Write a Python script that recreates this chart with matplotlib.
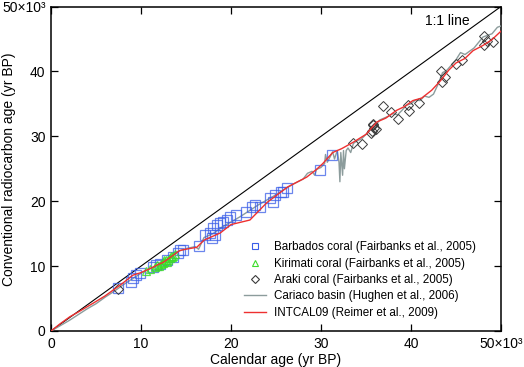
import matplotlib
matplotlib.use("Agg")
import matplotlib.pyplot as plt
from matplotlib.lines import Line2D

plt.rcParams['font.family'] = ['Liberation Sans', 'DejaVu Sans']

# ---------- data (thousands of years) ----------
intcal_cal = [0, 1, 2.1, 3, 4.7, 6, 6.9, 8, 9.1, 10, 11.3, 12, 12.5, 13, 13.6, 14.3, 15, 16.2, 17, 18.8,
              20, 22.1, 24, 26.3, 28.4, 29.5, 30.2, 31.3, 32.3, 33.6, 35, 36.2, 37.2, 38.4, 39.3, 40.2,
              41.2, 42.3, 43.3, 44.2, 45.0, 46.0, 46.9, 48.0, 49.0, 50.0]
intcal_c14 = [0, 1.1, 2.2, 2.9, 4.3, 5.4, 6.3, 7.4, 8.6, 9.0, 9.8, 10.3, 10.6, 11.1, 11.7, 12.4, 12.6, 12.9, 14.0, 15.1,
              16.4, 17.1, 19.8, 22.2, 23.7, 24.9, 25.8, 27.5, 28.1, 29.1, 30.3, 32.2, 32.8, 34.0, 34.6, 35.5,
              35.9, 37.1, 38.6, 40.2, 41.3, 42.0, 43.2, 44.0, 44.9, 46.2]

cariaco_cal = [0, 1, 2, 3, 4, 5, 6, 7, 8, 9, 10, 11, 12, 13, 14, 15, 16, 16.4, 17, 18, 19, 20, 21, 22, 23, 24,
               25, 26, 27, 28, 28.5, 29, 29.3, 29.5, 30.0, 30.4, 30.5, 30.7, 31.0, 31.3, 31.5, 31.8, 32.0,
               32.1, 32.2, 32.4, 32.5, 32.6, 32.8, 33.0, 33.3, 33.6, 34, 34.5, 35, 35.5, 36, 36.5, 37, 37.5, 38,
               38.5, 39, 39.5, 40, 40.5, 41, 41.5, 42, 42.5, 43, 43.5, 44, 44.5, 45, 45.5, 46, 47, 48,
               49, 49.6, 50]
cariaco_c14 = [0, 0.8, 1.6, 2.5, 3.4, 4.2, 5.2, 6.1, 7.1, 8.0, 8.9, 9.6, 10.3, 11.1, 12.2, 12.7, 13.0, 12.6,
               14.4, 15.0, 16.0, 16.8, 17.6, 18.5, 19.4, 20.2, 21.0, 21.9, 22.7, 23.4, 24.3, 24.6, 24.0,
               24.9, 25.2, 25.8, 27.2, 26.0, 26.8, 27.6, 26.5, 27.8, 26.0, 23.0, 27.5, 24.0, 27.8, 25.0,
               27.8, 28.2, 27.5, 28.9, 29.3, 29.6, 30.3, 31.0, 31.5, 32.5, 32.8, 33.1, 33.5, 33.3, 34.0,
               34.8, 35.0, 35.6, 35.5, 36.2, 36.0, 36.5, 38.0, 39.8, 40.2, 41.0, 41.8, 42.9, 42.6, 43.6,
               45.3, 45.8, 46.8, 47.0]

barbados_cal = [7.4, 8.9, 9.1, 9.4, 9.9, 11.3, 11.7, 12.1, 12.9, 13.6, 14.1, 14.3, 14.7, 16.4,
                17.1, 17.7, 18.0, 18.4, 18.8, 19.1, 19.5, 19.9, 18.2, 17.9, 20.6, 21.7, 22.3, 22.7, 23.2,
                24.3, 24.9, 25.6, 26.2, 24.7, 25.8, 29.9, 31.2]
barbados_c14 = [6.6, 7.6, 8.1, 8.6, 8.9, 9.9, 10.2, 10.4, 10.9, 11.4, 12.0, 12.5, 12.5, 13.1,
                14.8, 15.1, 15.8, 16.3, 16.6, 16.8, 17.1, 17.5, 14.8, 14.3, 17.8, 18.3, 19.1, 19.4, 19.1,
                20.5, 20.9, 21.4, 22.0, 19.8, 21.4, 24.8, 27.1]

kirimati_cal = [10.5, 11.0, 11.5, 11.8, 12.0, 12.2, 12.4, 12.6, 12.8, 13.0, 13.2, 13.4, 13.6, 13.8, 12.5, 12.9, 13.3]
kirimati_c14 = [9.3, 9.6, 9.9, 10.1, 10.0, 10.3, 10.5, 10.6, 10.9, 11.0, 11.2, 11.4, 11.5, 11.8, 10.9, 10.6, 11.6]

araki_cal = [7.4, 33.6, 34.6, 36.9, 37.8, 38.5, 35.8, 35.9, 35.7, 35.5, 36.1, 35.8, 39.7, 39.8, 40.9,
             43.3, 43.8, 43.4, 45.0, 45.7, 48.1, 48.1, 49.1, 48.4]
araki_c14 = [6.5, 29.0, 28.8, 34.7, 33.7, 32.6, 31.7, 31.3, 30.8, 30.5, 31.2, 31.9, 34.8, 33.9, 35.1,
             40.0, 39.1, 38.4, 41.2, 41.7, 45.5, 44.0, 44.6, 44.7]

x_ticks = [0, 10, 20, 30, 40, 50]
x_ticklabels = ['0', '10', '20', '30', '40', '50×10³']
y_ticks = [0, 10, 20, 30, 40, 50]
y_ticklabels = ['0', '10', '20', '30', '40', '50×10³']

# ---------- figure ----------
fig = plt.figure(figsize=(5.24, 3.67), dpi=100)
ax = fig.add_axes([51/524, 1-331/367, 450/524, 324.5/367])

ax.plot([0, 50], [0, 50], color='black', lw=0.8, zorder=2)
ax.plot(cariaco_cal, cariaco_c14, color='#8c9c9c', lw=1.0, zorder=3)
ax.plot(barbados_cal, barbados_c14, ls='none', marker='s', ms=6.5, mfc='none',
        mec='#3a5ee8', mew=0.9, alpha=0.75, zorder=4)
ax.plot(kirimati_cal, kirimati_c14, ls='none', marker='^', ms=5.5, mfc='none',
        mec='#3ddc2a', mew=0.9, alpha=0.85, zorder=4)
ax.plot(araki_cal, araki_c14, ls='none', marker='D', ms=5.4, mfc='none',
        mec='#3a3a3a', mew=0.7, zorder=4)
ax.plot(intcal_cal, intcal_c14, color='#ee3030', lw=1.0, zorder=5)

ax.set_xlim(0, 50)
ax.set_ylim(0, 50)
ax.set_xticks(x_ticks)
ax.set_xticklabels(x_ticklabels)
ax.set_yticks(y_ticks)
ax.set_yticklabels(y_ticklabels)
ax.tick_params(direction='in', length=5, width=0.9, top=True, right=True,
               labelsize=10, pad=4)
for s in ax.spines.values():
    s.set_linewidth(1.1)

ax.set_xlabel('Calendar age (yr BP)', fontsize=10, labelpad=2)
ax.set_ylabel('Conventional radiocarbon age (yr BP)', fontsize=10)
ax.yaxis.set_label_coords(-0.078, 0.5)

ax.text(46.5, 47.8, '1:1 line', ha='right', va='center', fontsize=10)

handles = [
    Line2D([], [], ls='none', marker='s', ms=4.5, mfc='none', mec='#3a5ee8', mew=0.8),
    Line2D([], [], ls='none', marker='^', ms=4.5, mfc='none', mec='#3ddc2a', mew=0.8),
    Line2D([], [], ls='none', marker='D', ms=3.8, mfc='none', mec='#3a3a3a', mew=0.8),
    Line2D([], [], color='#8c9c9c', lw=1.0),
    Line2D([], [], color='#ee3030', lw=1.0),
]
labels = ['Barbados coral (Fairbanks et al., 2005)',
          'Kirimati coral (Fairbanks et al., 2005)',
          'Araki coral (Fairbanks et al., 2005)',
          'Cariaco basin (Hughen et al., 2006)',
          'INTCAL09 (Reimer et al., 2009)']
ax.legend(handles, labels, loc='upper left', bbox_to_anchor=(0.424, 0.283), frameon=False,
          fontsize=8.4, handlelength=1.9, handletextpad=0.7, labelspacing=0.37, borderpad=0.2,
          borderaxespad=0)

fig.savefig('out.png', dpi=100)
